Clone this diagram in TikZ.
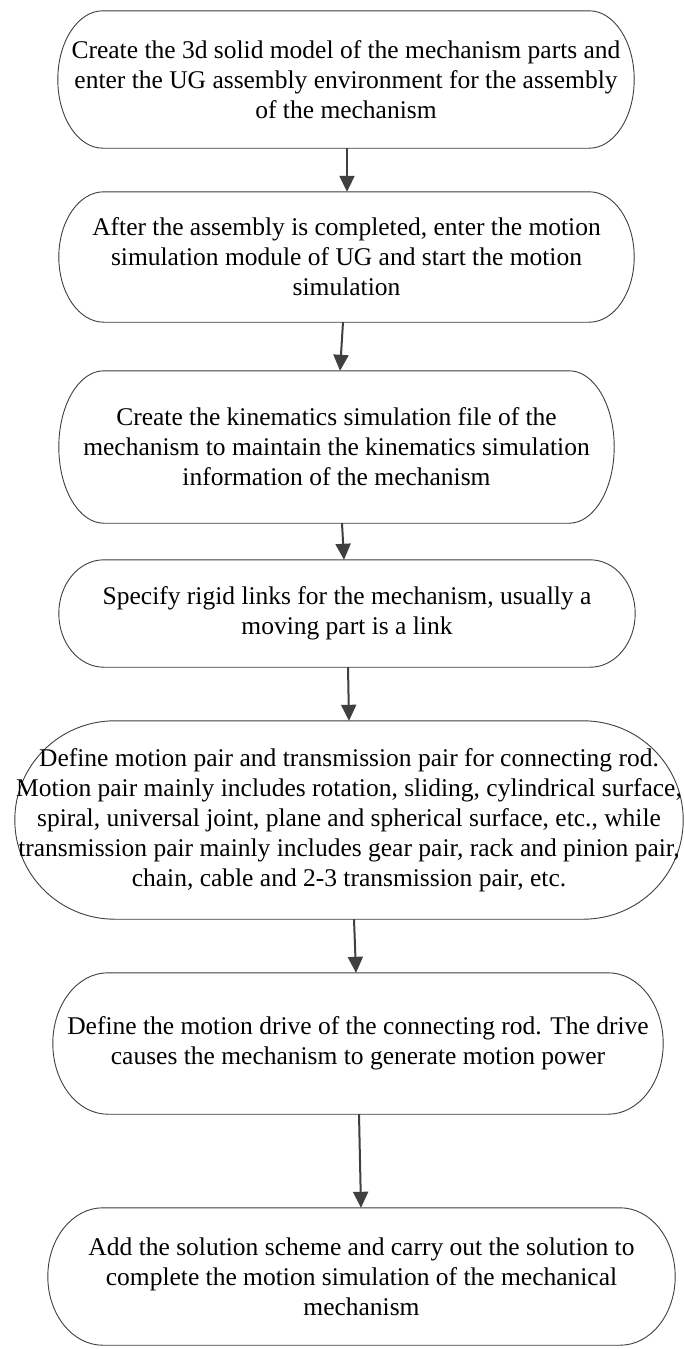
\documentclass[tikz,border=0pt]{standalone}
\usepackage{fontspec}
\setmainfont{Liberation Serif}
\usetikzlibrary{arrows.meta,calc}
\definecolor{edgec}{HTML}{404040}
\definecolor{shadowc}{HTML}{D9D9D9}
\tikzset{
  stepnode/.style={draw=none, inner sep=0pt, align=center,
    font=\fontsize{25.5}{30}\selectfont},
  outline/.style={draw=edgec, line width=0.9pt, fill=white},
  shade/.style={fill=shadowc, draw=none},
  flowarrow/.style={draw=edgec, line width=2pt,
    -{Triangle[length=16pt,width=15pt]}}
}
% outline of a terminator with elliptic ends: #1 node name, #2 x radius (pt)
\newcommand\termbox[2]{%
  \path[shade, xshift=3pt, yshift=-3pt] let \p1=(#1.south west), \p2=(#1.north east),
    \n1={(\y2-\y1)/2} in
    (\x1+#2pt,\y1) -- (\x2-#2pt,\y1)
    arc[start angle=-90, end angle=90, x radius=#2pt, y radius=\n1]
    -- (\x1+#2pt,\y2)
    arc[start angle=90, end angle=270, x radius=#2pt, y radius=\n1] -- cycle;
  \path[outline] let \p1=(#1.south west), \p2=(#1.north east),
    \n1={(\y2-\y1)/2} in
    (\x1+#2pt,\y1) -- (\x2-#2pt,\y1)
    arc[start angle=-90, end angle=90, x radius=#2pt, y radius=\n1]
    -- (\x1+#2pt,\y2)
    arc[start angle=90, end angle=270, x radius=#2pt, y radius=\n1] -- cycle;
}
\begin{document}
\begin{tikzpicture}[x=1pt, y=-1pt]
\useasboundingbox[fill=white] (0,0) rectangle (685,1349);

% invisible frames for the boxes (drawn first for anchors)
\path
  (346,79.5)   node[minimum width=576pt, minimum height=137pt] (b1) {}
  (346.5,257)  node[minimum width=575pt, minimum height=130pt] (b2) {}
  (336.5,447)  node[minimum width=555pt, minimum height=152pt] (b3) {}
  (347,613.5)  node[minimum width=576pt, minimum height=107pt] (b4) {}
  (349,820)    node[minimum width=668pt, minimum height=198pt] (b5) {}
  (358,1043.5) node[minimum width=610pt, minimum height=141pt] (b6) {}
  (361.5,1276.5) node[minimum width=627pt, minimum height=137pt] (b7) {};

\termbox{b1}{45}
\termbox{b2}{45}
\termbox{b3}{45}
\termbox{b4}{45}
\termbox{b5}{100}
\termbox{b6}{55}
\termbox{b7}{55}

\node[stepnode] (t1) at (b1) {Create the 3d solid model of the mechanism parts and\\enter the UG assembly environment for the assembly\\of the mechanism};
\node[stepnode] (t2) at (b2) {After the assembly is completed, enter the motion\\simulation module of UG and start the motion\\simulation};
\node[stepnode] (t3) at (b3) {Create the kinematics simulation file of the\\mechanism to maintain the kinematics simulation\\information of the mechanism};
\node[stepnode] (t4) at (b4) {Specify rigid links for the mechanism, usually a\\moving part is a link};
\node[stepnode] (t5) at (b5) {Define motion pair and transmission pair for connecting rod.\\Motion pair mainly includes rotation, sliding, cylindrical surface,\\spiral, universal joint, plane and spherical surface, etc., while\\transmission pair mainly includes gear pair, rack and pinion pair,\\chain, cable and 2-3 transmission pair, etc.};
\node[stepnode] (t6) at (b6) {Define the motion drive of the connecting rod. The drive\\causes the mechanism to generate motion power};
\node[stepnode] (t7) at (b7) {Add the solution scheme and carry out the solution to\\complete the motion simulation of the mechanical\\mechanism};

\draw[flowarrow] ([xshift=1pt]b1.south) -- ([xshift=0.5pt]b2.north);
\draw[flowarrow] ([xshift=-3.5pt]b2.south) -- ([xshift=3.5pt]b3.north);
\draw[flowarrow] ([xshift=5.5pt]b3.south) -- ([xshift=-3pt]b4.north);
\draw[flowarrow] ([xshift=1pt]b4.south) -- ([xshift=0pt]b5.north);
\draw[flowarrow] ([xshift=5pt]b5.south) -- ([xshift=-2pt]b6.north);
\draw[flowarrow] ([xshift=1pt]b6.south) -- ([xshift=-0.5pt]b7.north);
\end{tikzpicture}
\end{document}
